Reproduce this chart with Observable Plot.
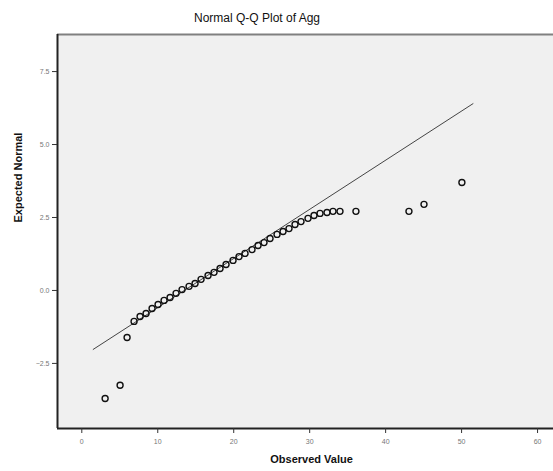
<!DOCTYPE html>
<html>
<head>
<meta charset="utf-8">
<script src="https://cdn.jsdelivr.net/npm/d3@7"></script>
<script src="https://cdn.jsdelivr.net/npm/@observablehq/plot@0.6"></script>
<style>
  body { margin: 0; background: #fff; font-family: "Liberation Sans", Arial, sans-serif; }
  #wrap { position: relative; width: 553px; height: 471px; }
  #title { position: absolute; left: 0; top: 0; width: 553px; height: 30px; }
  #title span { position: absolute; left: 194px; top: 11px; font-size: 12px; color: #111; white-space: nowrap; }
  #chart { position: absolute; left: 0; top: 30px; }
</style>
</head>
<body>
<div id="wrap">
  <div id="title"><span>Normal Q-Q Plot of Agg</span></div>
  <div id="chart"></div>
</div>
<script>
const titleText = "Normal Q-Q Plot of Agg";
const xLabel = "Observed Value";
const yLabel = "Expected Normal";

// observed values (x) and expected normal values (y)
const observed = [3.07, 5.04, 5.96, 6.88, 7.67, 8.46, 9.25, 10.04, 10.83, 11.62, 12.41, 13.20, 14.12, 14.91, 15.70, 16.62, 17.41, 18.20, 18.99, 19.91, 20.70, 21.49, 22.41, 23.20, 23.99, 24.78, 25.70, 26.49, 27.28, 28.07, 28.86, 29.78, 30.57, 31.36, 32.28, 33.07, 33.99, 36.09, 43.07, 45.05, 50.04];
const expected = [-3.70, -3.25, -1.61, -1.06, -0.89, -0.79, -0.62, -0.48, -0.34, -0.24, -0.10, 0.03, 0.14, 0.24, 0.38, 0.51, 0.62, 0.75, 0.89, 1.03, 1.16, 1.27, 1.40, 1.54, 1.64, 1.78, 1.92, 2.02, 2.12, 2.26, 2.36, 2.47, 2.57, 2.64, 2.67, 2.71, 2.71, 2.71, 2.71, 2.95, 3.70];

// reference line endpoints
const lineX = [1.5, 51.5];
const lineY = [-2.02, 6.40];

// tick labels
const xTicks = [0, 10, 20, 30, 40, 50, 60];
const yTicks = [-2.5, 0, 2.5, 5, 7.5];

const xDomain = [-3.2, 62.1];
const yDomain = [-4.73, 8.77];

const points = observed.map((x, i) => ({x, y: expected[i]}));
const refLine = lineX.map((x, i) => ({x, y: lineY[i]}));

const chart = Plot.plot({
  width: 553,
  height: 441,
  marginTop: 4,
  marginBottom: 43,
  marginLeft: 57,
  marginRight: 0,
  style: {background: "transparent", fontFamily: "Liberation Sans, Arial, sans-serif"},
  x: {domain: xDomain},
  y: {domain: yDomain},
  marks: [
    Plot.frame({fill: "#f0f0f0", stroke: "none"}),
    Plot.ruleY([yDomain[1]], {stroke: "#808080", strokeWidth: 2}),
    Plot.ruleX([xDomain[0]], {stroke: "#222", strokeWidth: 2}),
    Plot.ruleY([yDomain[0]], {stroke: "#222", strokeWidth: 2}),
    Plot.axisX({ticks: xTicks, tickSize: 5, tickPadding: 6, fontSize: 7, color: "#777", stroke: "#333", label: null, tickFormat: d => String(d)}),
    Plot.axisY({ticks: yTicks, tickSize: 5, tickPadding: 3, fontSize: 7, color: "#777", stroke: "#333", label: null, tickFormat: d3.format(".1f")}),
    Plot.line(refLine, {x: "x", y: "y", stroke: "#444", strokeWidth: 1}),
    Plot.dot(points, {x: "x", y: "y", r: 3, stroke: "#111", strokeWidth: 1.4, fill: "none"}),
    Plot.text([xLabel], {frameAnchor: "bottom", dx: 6, dy: 34, fontSize: 11, fontWeight: "bold", fill: "#111"}),
    Plot.text([yLabel], {frameAnchor: "left", dx: -39, dy: -9, rotate: -90, fontSize: 11, fontWeight: "bold", fill: "#111"})
  ]
});
document.getElementById("chart").appendChild(chart);
</script>
</body>
</html>
